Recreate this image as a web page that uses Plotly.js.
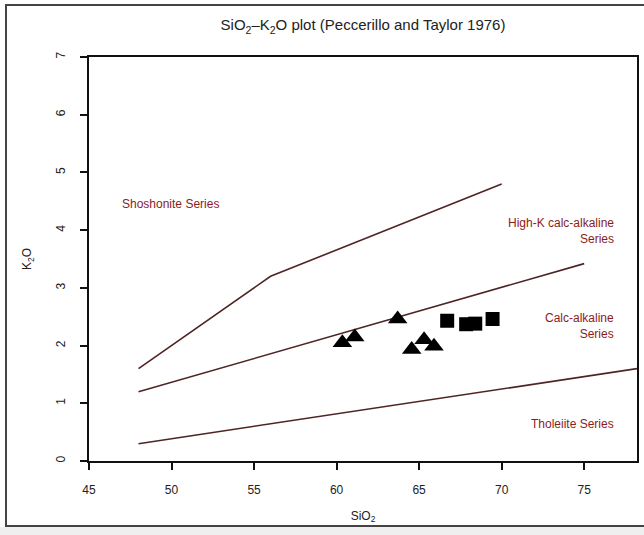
<!DOCTYPE html>
<html>
<head>
<meta charset="utf-8">
<script src="https://cdn.plot.ly/plotly-3.0.1.min.js"></script>
<style>
  html, body { margin: 0; padding: 0; background: #ffffff; }
  #frame { position: absolute; left: 5px; top: 4px; width: 700px; height: 523px; border: 2px solid #444; box-sizing: border-box; }
  #strip { position: absolute; left: 0; top: 527px; width: 644px; height: 8px; background: #efefef; }
  #chart { position: absolute; left: 0; top: 0; width: 644px; height: 535px; }
</style>
</head>
<body>
<div id="frame"></div>
<div id="strip"></div>
<div id="chart"></div>
<script>
// Sample analyses (wt%)
const triSiO2 = [60.35, 61.1, 63.7, 64.55, 65.3, 65.9];
const triK2O  = [2.05, 2.15, 2.46, 1.93, 2.10, 1.99];
const sqSiO2  = [66.7, 67.85, 68.4, 69.45];
const sqK2O   = [2.43, 2.37, 2.38, 2.46];

// Series boundaries (Peccerillo & Taylor 1976)
const shoshoniteX = [48, 56, 70];
const shoshoniteY = [1.6, 3.2, 4.8];
const highKX = [48, 75];
const highKY = [1.2, 3.42];
const tholeiiteX = [48, 78.2];
const tholeiiteY = [0.3, 1.6];

// Field names
const fieldNames = ['Shoshonite Series', 'High-K calc-alkaline<br>Series', 'Calc-alkaline<br>Series', 'Tholeiite Series'];
const fieldX = [46.9, 76.9, 76.9, 76.9];
const fieldY = [4.45, 3.99, 2.34, 0.64];
const fieldAlign = ['left', 'right', 'right', 'right'];

const xTicks = [45, 50, 55, 60, 65, 70, 75];
const yTicks = [0, 1, 2, 3, 4, 5, 6, 7];

const lineStyle = { color: '#4e2424', width: 1.6 };

const traces = [
  { x: shoshoniteX, y: shoshoniteY, mode: 'lines', line: lineStyle, hoverinfo: 'skip' },
  { x: highKX, y: highKY, mode: 'lines', line: lineStyle, hoverinfo: 'skip' },
  { x: tholeiiteX, y: tholeiiteY, mode: 'lines', line: lineStyle, hoverinfo: 'skip' },
  { x: triSiO2, y: triK2O, mode: 'markers',
    marker: { symbol: 'triangle-up', size: 17, color: '#000000' } },
  { x: sqSiO2, y: sqK2O, mode: 'markers',
    marker: { symbol: 'square', size: 14, color: '#000000' } }
];

const annotations = fieldNames.map((t, i) => ({
  x: fieldX[i], y: fieldY[i], xref: 'x', yref: 'y', text: t,
  showarrow: false, align: fieldAlign[i],
  xanchor: fieldAlign[i], yanchor: 'middle',
  font: { family: 'Liberation Sans, Arial, sans-serif', size: 12, color: '#8a1c1c' }
}));

const layout = {
  width: 644, height: 535,
  margin: { l: 89, r: 7, t: 57, b: 74 },
  paper_bgcolor: 'rgba(0,0,0,0)',
  plot_bgcolor: '#ffffff',
  showlegend: false,
  font: { family: 'Liberation Sans, Arial, sans-serif', color: '#222222' },
  title: {
    text: 'SiO<sub>2</sub>\u2013K<sub>2</sub>O plot (Peccerillo and Taylor 1976)',
    x: 0.5, xref: 'paper', y: 0.953, yref: 'container', yanchor: 'middle',
    font: { size: 15, color: '#222222' }
  },
  xaxis: {
    range: [45, 78.2], tickvals: xTicks, ticktext: xTicks.map(String),
    showgrid: false, zeroline: false, showline: true, mirror: true,
    linecolor: '#111111', linewidth: 2,
    ticks: 'outside', ticklen: 7, tickwidth: 2, tickcolor: '#111111',
    ticklabelstandoff: 10,
    tickfont: { size: 12, color: '#222222' },
    title: { text: 'SiO<sub>2</sub>', standoff: 15, font: { size: 12, color: '#222222' } }
  },
  yaxis: {
    range: [0, 7], tickvals: yTicks, ticktext: yTicks.map(String),
    showgrid: false, zeroline: false, showline: true, mirror: true,
    linecolor: '#111111', linewidth: 2,
    ticks: 'outside', ticklen: 7, tickwidth: 2, tickcolor: '#111111',
    tickangle: -90, ticklabelstandoff: 10,
    tickfont: { size: 12, color: '#222222' },
    title: { text: 'K<sub>2</sub>O', standoff: 20, font: { size: 12, color: '#222222' } }
  },
  annotations: annotations
};

Plotly.newPlot('chart', traces, layout, { staticPlot: true });
</script>
</body>
</html>
